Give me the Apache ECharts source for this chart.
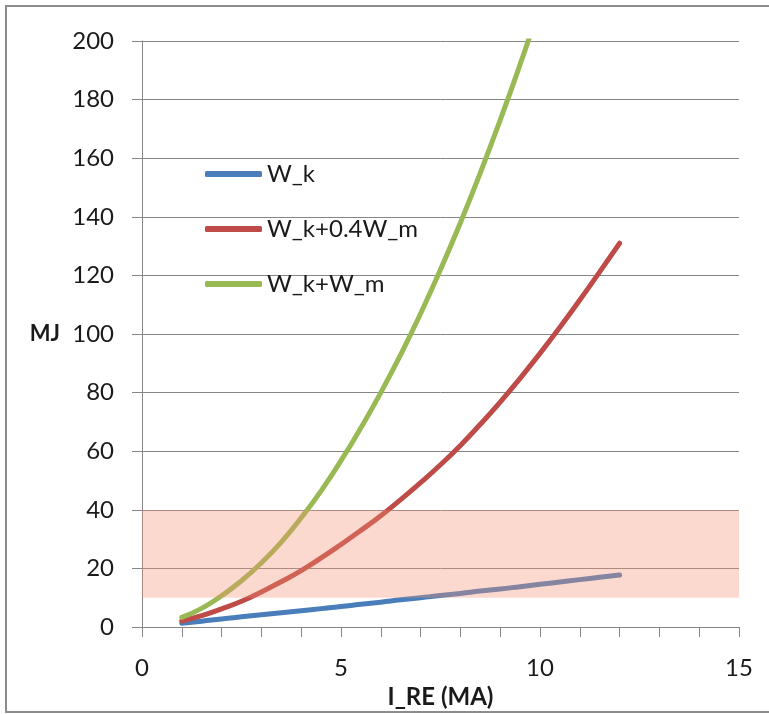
<!DOCTYPE html>
<html>
<head>
<meta charset="utf-8">
<script src="https://cdn.jsdelivr.net/npm/echarts@6/dist/echarts.min.js"></script>
<style>
html,body{margin:0;padding:0;background:#fff;}
#chart{width:769px;height:714px;position:absolute;left:0;top:0;}
#frame{position:absolute;left:5px;top:5px;width:780px;height:704px;border:2px solid #8c8c8c;pointer-events:none;}
</style>
</head>
<body>
<div id="chart"></div>
<div id="frame"></div>
<script>
// x values (I_RE, MA)
var xValues = [1,1.5,2,2.5,3,3.5,4,4.5,5,5.5,6,6.5,7,7.5,8,8.5,9,9.5,10,10.5,11,11.5,12];
var seriesNames = ['W_k','W_k+0.4W_m','W_k+W_m'];
var wk = [1.3,2.0,2.8,3.5,4.2,4.9,5.6,6.3,7.0,7.8,8.5,9.3,10.0,10.8,11.5,12.3,13.0,13.8,14.6,15.4,16.2,17.0,17.8];
var wk04wm = [2.1,3.9,6.2,8.8,12.0,15.5,19.3,23.6,28.2,33.0,38.0,43.5,49.3,55.4,62.0,69.2,76.8,84.9,93.4,102.3,111.6,121.2,131.0];
var wkwm = [3.3,6.4,10.7,15.8,21.9,29.0,37.3,46.5,56.8,68.0,80.0,93.0,107.0,122.0,138.0,155.0,173.0,192.0,212.0,233.0,255.0,278.0,302.0];
var bandRange = [10,40];
var xTicks = [0,5,10,15];
var yTicks = [0,20,40,60,80,100,120,140,160,180,200];
var colors = ['#4A7EBB','#BE4B48','#98B954'];

function pairs(ys){ return xValues.map(function(x,i){ return [x, ys[i]]; }); }

var font = 'Lato, "Liberation Sans", sans-serif';
var chart = echarts.init(document.getElementById('chart'), null, {renderer:'canvas'});
var lineSeries = [wk, wk04wm, wkwm].map(function(ys, i){
  return {
    name: seriesNames[i], type: 'line', data: pairs(ys), smooth: true,
    showSymbol: false, symbol: 'none', clip: true, z: 2,
    lineStyle: {color: colors[i], width: 5, cap: 'round'},
    itemStyle: {color: colors[i]}
  };
});
lineSeries.push({
  name: 'band', type: 'line', data: [], z: 10,
  markArea: {
    z: 10, silent: true,
    itemStyle: {color: 'rgba(247,145,115,0.35)'},
    data: [[{yAxis: bandRange[0]}, {yAxis: bandRange[1]}]]
  }
});

chart.setOption({
  animation: false,
  color: colors,
  grid: {left: 142, right: 30, top: 41, bottom: 82, containLabel: false},
  legend: {
    data: seriesNames, orient: 'vertical', left: 200, top: 157,
    itemWidth: 57, itemHeight: 6, itemGap: 31, icon: 'roundRect',
    textStyle: {fontFamily: font, fontSize: 24, color: '#1a1a1a'}
  },
  xAxis: {
    type: 'value', min: xTicks[0], max: xTicks[xTicks.length-1], interval: 5,
    name: 'I_RE (MA)', nameLocation: 'middle', nameGap: 46,
    nameTextStyle: {fontFamily: font, fontSize: 24, fontWeight: 'bold', color: '#1a1a1a'},
    axisLine: {show: true, lineStyle: {color: '#868686', width: 1}},
    axisTick: {show: true, length: 10, inside: false, lineStyle: {color: '#868686'}},
    minorTick: {show: true, splitNumber: 5, length: 10, lineStyle: {color: '#868686'}},
    splitLine: {show: false},
    axisLabel: {fontFamily: font, fontSize: 24, color: '#1a1a1a', margin: 29}
  },
  yAxis: {
    type: 'value', min: yTicks[0], max: yTicks[yTicks.length-1], interval: 20,
    name: 'MJ', nameLocation: 'middle', nameRotate: 0, nameGap: 82,
    nameTextStyle: {fontFamily: font, fontSize: 22, fontWeight: 'bold', color: '#1a1a1a'},
    axisLine: {show: true, lineStyle: {color: '#868686', width: 1}},
    axisTick: {show: true, length: 10, lineStyle: {color: '#868686'}},
    splitLine: {show: true, lineStyle: {color: '#868686', width: 1}},
    axisLabel: {fontFamily: font, fontSize: 24, color: '#1a1a1a', margin: 28}
  },
  series: lineSeries
});
</script>
</body>
</html>
